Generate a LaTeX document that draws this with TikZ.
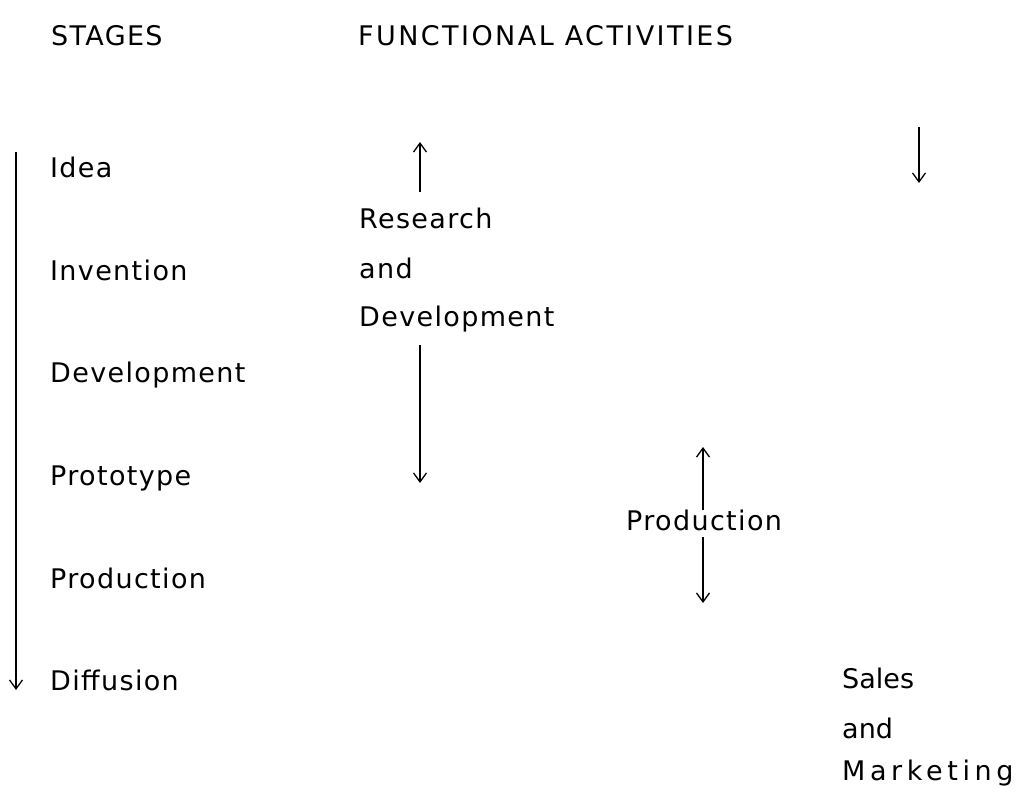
\documentclass[tikz,border=0pt]{standalone}
\usepackage{fontspec}
\setmainfont{DejaVu Sans}[LetterSpace=5]
\usetikzlibrary{arrows.meta}

\tikzset{
  lbl/.style={anchor=base west, inner sep=0pt, font=\fontsize{27}{32}\selectfont},
  span/.style={line width=1.3pt, -{Straight Barb[length=9pt,width=13pt]}},
}

\begin{document}
\begin{tikzpicture}[x=1pt,y=-1pt]
  \useasboundingbox (0,0) rectangle (1026,796);

  % headings
  \node [lbl] (stages) at (51,45) {STAGES};
  \node [lbl] (functional) at (358,45) {\addfontfeature{LetterSpace=9}FUNCTIONAL ACTIVITIES};

  % stages column
  \node [lbl] (idea) at (50,177) {Idea};
  \node [lbl] (invention) at (50,280) {Invention};
  \node [lbl] (development) at (50,382) {Development};
  \node [lbl] (prototype) at (50,485) {Prototype};
  \node [lbl] (production) at (50,588) {Production};
  \node [lbl] (diffusion) at (50,690) {Diffusion};
  \coordinate (stagetop) at (16,152);
  \coordinate (stagetip) at (16,690);
  \draw [span] (stagetop) -- (stagetip);

  % research and development
  \node [lbl] (research) at (359,228) {Research};
  \node [lbl] (rdand) at (359,278) {and};
  \node [lbl] (rddev) at (359,326) {Development};
  \coordinate (rdupfoot) at (420,192);
  \coordinate (rduptip) at (420,142);
  \coordinate (rddownfoot) at (420,345);
  \coordinate (rddowntip) at (420,483);
  \draw [span] (rdupfoot) -- (rduptip);
  \draw [span] (rddownfoot) -- (rddowntip);

  % production
  \node [lbl] (prodlabel) at (626,530) {Production};
  \coordinate (produpfoot) at (703,510);
  \coordinate (produptip) at (703,447);
  \coordinate (proddownfoot) at (703,537);
  \coordinate (proddowntip) at (703,603);
  \draw [span] (produpfoot) -- (produptip);
  \draw [span] (proddownfoot) -- (proddowntip);

  % sales and marketing
  \node [lbl] (sales) at (842,688) {\addfontfeature{LetterSpace=0}Sales};
  \node [lbl] (smand) at (842,738) {\addfontfeature{LetterSpace=0}and};
  \node [lbl] (marketing) at (842,780) {\addfontfeature{LetterSpace=17}Marketing};
  \coordinate (smfoot) at (919,127);
  \coordinate (smtip) at (919,183);
  \draw [span] (smfoot) -- (smtip);
\end{tikzpicture}
\end{document}
